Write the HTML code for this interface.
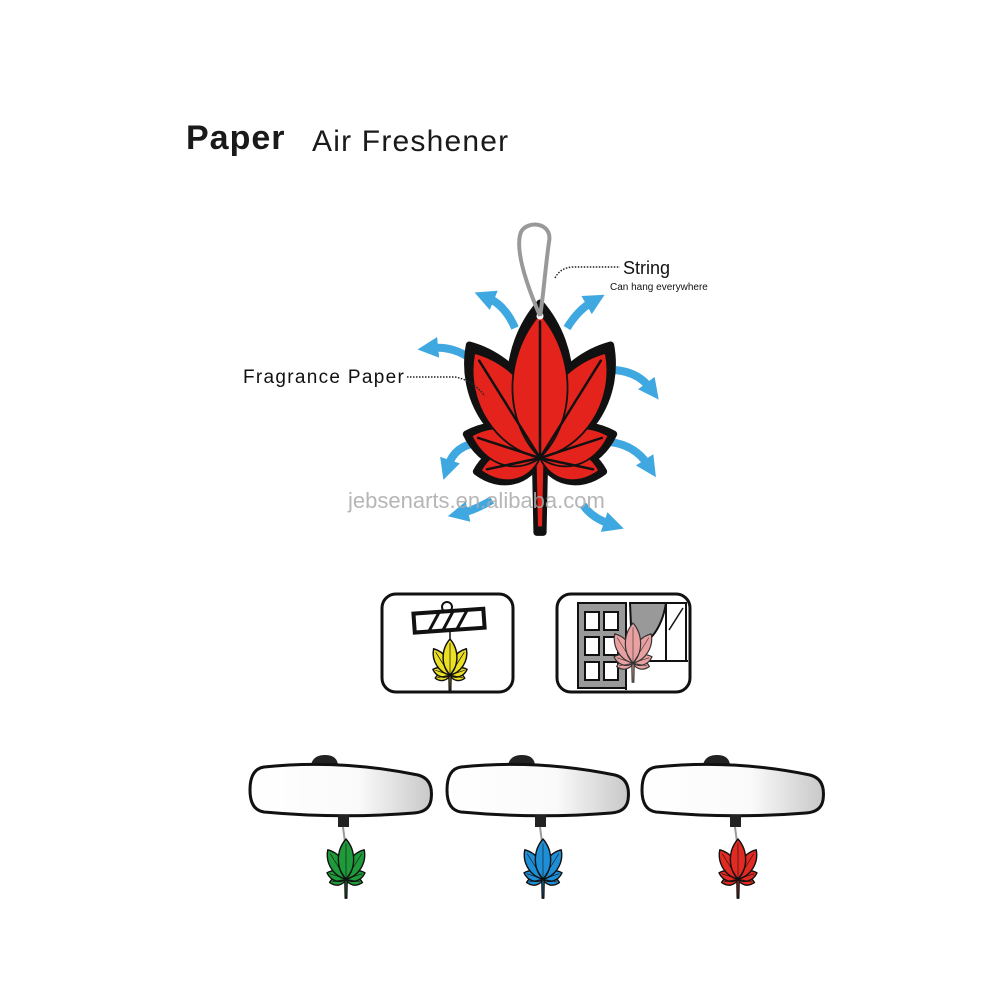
<!DOCTYPE html>
<html><head><meta charset="utf-8"><style>
html,body{margin:0;padding:0;background:#fff;}
svg{display:block;}
text{font-family:"Liberation Sans",Arial,sans-serif;}
</style></head><body>
<svg width="987" height="1000" viewBox="0 0 987 1000" xmlns="http://www.w3.org/2000/svg">
<defs>
<g id="leaf">
  <path d="M-3,0 L-2,48 L2,48 L3,0Z"/>
  <path transform="rotate(-102)" d="M0,0 C14,-10 15,-29 0,-42 C-15,-29 -14,-10 0,0Z"/>
  <path transform="rotate(102)" d="M0,0 C14,-10 15,-29 0,-42 C-15,-29 -14,-10 0,0Z"/>
  <path transform="rotate(-72)" d="M0,0 C16,-12 17,-34 0,-50 C-17,-34 -16,-12 0,0Z"/>
  <path transform="rotate(72)" d="M0,0 C16,-12 17,-34 0,-50 C-17,-34 -16,-12 0,0Z"/>
  <path transform="rotate(-32)" d="M0,0 C22,-21 24,-60 0,-86 C-24,-60 -22,-21 0,0Z"/>
  <path transform="rotate(32)" d="M0,0 C22,-21 24,-60 0,-86 C-24,-60 -22,-21 0,0Z"/>
  <path d="M0,0 C25,-25 26,-70 0,-100 C-26,-70 -25,-25 0,0Z"/>
</g>
<g id="veins" fill="none" stroke-linecap="round">
  <path d="M0,0 L0,-88"/>
  <path transform="rotate(-32)" d="M0,0 L0,-74"/>
  <path transform="rotate(32)" d="M0,0 L0,-74"/>
  <path transform="rotate(-72)" d="M0,0 L0,-42"/>
  <path transform="rotate(72)" d="M0,0 L0,-42"/>
  <path transform="rotate(-102)" d="M0,0 L0,-35"/>
  <path transform="rotate(102)" d="M0,0 L0,-35"/>
</g>
<marker id="ah" viewBox="0 0 10 10" refX="3" refY="5" markerWidth="2.6" markerHeight="2.6" orient="auto">
  <path d="M0,0 L10,5 L0,10Z" fill="#2c9fdd"/>
</marker>
<linearGradient id="mg" x1="0" x2="1" y1="0" y2="0">
  <stop offset="0" stop-color="#fff"/><stop offset="0.6" stop-color="#fafafa"/><stop offset="1" stop-color="#c8c8c8"/>
</linearGradient>
</defs>

<text x="186" y="149" font-size="34" font-weight="bold" fill="#1a1a1a" letter-spacing="1">Paper</text>
<text x="312" y="151" font-size="30" fill="#1a1a1a" letter-spacing="1.2">Air Freshener</text>

<!-- arrows -->
<g fill="none" stroke="#2c9fdd" stroke-width="8" marker-end="url(#ah)" opacity="0.9">
  <path d="M515,328 Q505,305 488,298"/>
  <path d="M567,328 Q578,310 592,302"/>
  <path d="M470,358 Q452,346 432,348"/>
  <path d="M615,370 Q638,372 650,388"/>
  <path d="M478,443 Q455,445 448,466"/>
  <path d="M610,442 Q635,445 648,465"/>
  <path d="M492,500 Q475,510 462,513"/>
  <path d="M583,505 Q592,518 610,524"/>
</g>

<!-- main leaf -->
<g transform="translate(540,458) scale(1.55)">
  <use href="#leaf" fill="#111" stroke="#111" stroke-width="4.5" stroke-linejoin="round"/>
  <use href="#leaf" fill="#e3231c" stroke="#111" stroke-width="1.2" stroke-linejoin="round" transform="scale(0.93)"/>
  <use href="#veins" stroke="#111" stroke-width="1.6"/>
</g>
<circle cx="540" cy="316" r="3.5" fill="#fff"/>
<path d="M540,316 C528,288 514,250 521,232 C527,220 553,222 549,242 C545,270 543,300 540,316" fill="none" stroke="#999" stroke-width="4"/>

<!-- labels -->
<path d="M555,278 Q560,268 572,267 L620,267" fill="none" stroke="#222" stroke-width="1.5" stroke-dasharray="1.5,1.5"/>
<text x="623" y="274" font-size="18" fill="#111">String</text>
<text x="610" y="290" font-size="10" fill="#111">Can hang everywhere</text>
<text x="243" y="383" font-size="19" fill="#111" letter-spacing="1.3">Fragrance Paper</text>
<path d="M407,377 L455,377 Q472,380 485,396" fill="none" stroke="#222" stroke-width="1.5" stroke-dasharray="1.5,1.5"/>

<text x="348" y="508" font-size="22" fill="#aaa" opacity="0.85">jebsenarts.en.alibaba.com</text>

<!-- icon box 1 -->
<rect x="382" y="594" width="131" height="98" rx="14" fill="#fff" stroke="#111" stroke-width="3"/>
<circle cx="447" cy="607" r="5" fill="none" stroke="#111" stroke-width="2"/>
<g transform="rotate(-4 451 620)">
  <rect x="414" y="611" width="70" height="19" fill="#fff" stroke="#111" stroke-width="4"/>
  <path d="M428,630 L440,611 M442,630 L454,611 M456,630 L468,611" stroke="#111" stroke-width="3"/>
</g>
<line x1="450" y1="632" x2="450" y2="641" stroke="#111" stroke-width="1.5"/>
<g transform="translate(450,675) scale(0.36)">
  <use href="#leaf" fill="#ece024" stroke="#111" stroke-width="4" stroke-linejoin="round"/>
  <use href="#veins" stroke="#111" stroke-width="2"/>
</g>

<!-- icon box 2 -->
<rect x="557" y="594" width="133" height="98" rx="14" fill="#fff" stroke="#111" stroke-width="3"/>
<rect x="578" y="603" width="48" height="85" fill="#999" stroke="#111" stroke-width="2"/>
<g fill="#fff" stroke="#111" stroke-width="2">
  <rect x="585" y="612" width="14" height="18"/><rect x="604" y="612" width="14" height="18"/>
  <rect x="585" y="637" width="14" height="18"/><rect x="604" y="637" width="14" height="18"/>
  <rect x="585" y="662" width="14" height="18"/><rect x="604" y="662" width="14" height="18"/>
</g>
<path d="M630,603 L666,603 Q660,640 632,650 Z" fill="#999" stroke="#111" stroke-width="2"/>
<rect x="666" y="603" width="20" height="58" fill="#fff" stroke="#111" stroke-width="2"/>
<line x1="669" y1="630" x2="683" y2="608" stroke="#111" stroke-width="1.5"/>
<line x1="626" y1="661" x2="688" y2="661" stroke="#111" stroke-width="2"/>
<line x1="626" y1="603" x2="626" y2="690" stroke="#111" stroke-width="2"/>
<g transform="translate(633,663) scale(0.4)">
  <use href="#leaf" fill="#e9a0a0" stroke="#333" stroke-width="3" stroke-linejoin="round"/>
  <use href="#veins" stroke="#333" stroke-width="1.5"/>
</g>

<!-- bottom mirrors -->
<g id="mir">
  <path d="M311,765 Q313,755 325,755 Q337,755 338,765Z" fill="#222"/>
  <path d="M264,767 Q340,759 418,775 Q434,779 431,800 Q429,812 414,813 Q340,819 264,812 Q250,810 250,790 Q250,769 264,767Z" fill="url(#mg)" stroke="#111" stroke-width="3"/>
  <rect x="338" y="815" width="11" height="12" fill="#222"/>
  <line x1="343" y1="827" x2="345" y2="842" stroke="#999" stroke-width="2"/>
</g>
<use href="#mir" transform="translate(197,0)"/>
<use href="#mir" transform="translate(392,0)"/>
<g transform="translate(346,879) scale(0.4)">
  <use href="#leaf" fill="#1f9a3a" stroke="#111" stroke-width="3.5" stroke-linejoin="round"/>
  <use href="#veins" stroke="#111" stroke-width="1.5"/>
</g>
<g transform="translate(543,879) scale(0.4)">
  <use href="#leaf" fill="#1e8fd6" stroke="#111" stroke-width="3.5" stroke-linejoin="round"/>
  <use href="#veins" stroke="#111" stroke-width="1.5"/>
</g>
<g transform="translate(738,879) scale(0.4)">
  <use href="#leaf" fill="#e02a22" stroke="#111" stroke-width="3.5" stroke-linejoin="round"/>
  <use href="#veins" stroke="#111" stroke-width="1.5"/>
</g>
</svg>
</body></html>
